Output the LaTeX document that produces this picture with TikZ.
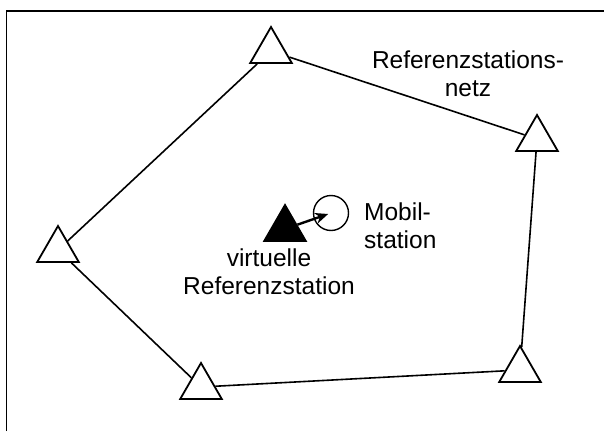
\documentclass[tikz,border=0pt]{standalone}
\usepackage{fontspec}
\setmainfont{Liberation Sans}
\usetikzlibrary{arrows.meta, positioning, shapes.geometric}

\tikzset{
    refstat/.style={regular polygon, regular polygon sides=3, draw, line width=1.8pt,
        fill=white, minimum size=48pt, inner sep=0pt},
    virtstat/.style={refstat, fill=black},
    netline/.style={line width=1.6pt},
    lbl/.style={font=\fontsize{24.5}{28}\selectfont, inner sep=0pt}
}

\begin{document}
\begin{tikzpicture}[x=1pt, y=-1pt, >=stealth]
    \useasboundingbox (0,0) rectangle (604,431);

    % Frame
    \draw[line width=1.8pt] (6.5,431) -- (6.5,11) -- (604,11);

    % Reference stations
    \node[refstat] (top)   at (271,51)  {};
    \node[refstat] (right) at (537,139) {};
    \node[refstat] (left)  at (58,250)  {};
    \node[refstat] (botl)  at (201,387) {};
    \node[refstat] (botr)  at (520,370) {};

    % Network
    \draw[netline] (top) -- (right);
    \draw[netline] (top) -- (left);
    \draw[netline] (left) -- (botl);
    \draw[netline] (botl) -- (botr);
    \draw[netline] (botr) -- (right);

    % Virtual station and rover
    \node[virtstat] (virt) at (285,229) {};
    \node[draw, circle, line width=1.4pt, minimum size=35pt, inner sep=0pt] (mob) at (331,213) {};
    \draw[-{Stealth[length=13pt, width=11pt]}, line width=2.4pt, shorten >=3pt] (virt) -- (mob.center);

    % Labels
    \node[lbl, align=center] (netz) at (468,74) {Referenzstations-\\netz};
    \node[lbl, align=left, anchor=west] (moblbl) at (364,226) {Mobil-\\station};
    \node[lbl, align=center] (virtlbl) at (269,272) {virtuelle\\Referenzstation};
\end{tikzpicture}
\end{document}
